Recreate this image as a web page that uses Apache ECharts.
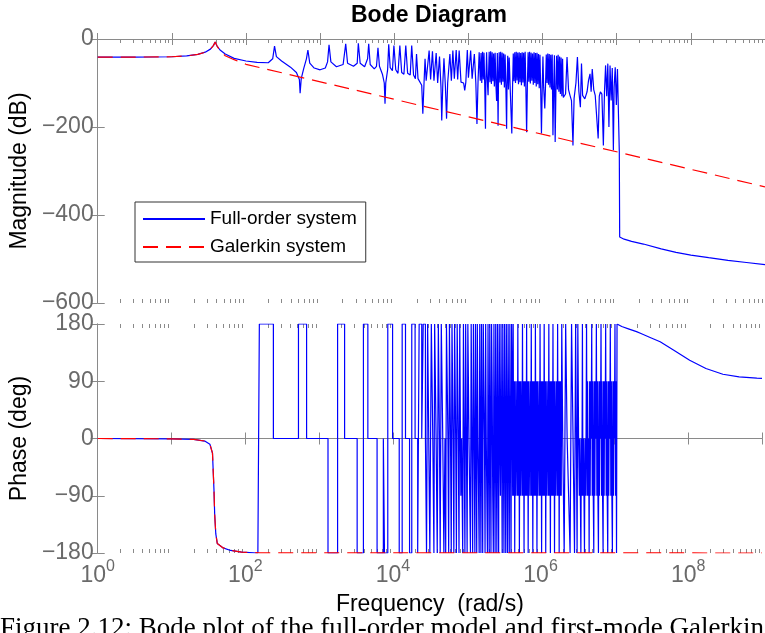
<!DOCTYPE html>
<html>
<head>
<meta charset="utf-8">
<script src="https://cdn.jsdelivr.net/npm/echarts@6/dist/echarts.min.js"></script>
<style>html,body{margin:0;padding:0;background:#fff;}#c{width:765px;height:633px;}</style>
</head>
<body>
<div id="c"></div>
<script>
// x values are log10(frequency in rad/s)
const xTickExponents = [0,1,2,3,4,5,6,7,8,9];
const magTicks = [0,-200,-400,-600];
const phaseTicks = [180,90,0,-90,-180];

// Full-order system magnitude (dB)
const fullMag = [
[0,-41.3],[0.5,-41.1],[1,-40.3],[1.2,-38.5],[1.35,-35],[1.45,-30],[1.52,-23],[1.56,-15],[1.585,-7],[1.61,-16],[1.65,-25],[1.72,-34],[1.84,-44],[2.0,-50],[2.15,-53],[2.3,-54],[2.36,-45],[2.385,-16],[2.41,-40],[2.48,-50],[2.6,-64],[2.68,-76],[2.72,-92],[2.73,-123],[2.745,-90],[2.78,-66],[2.815,-45],[2.835,-25],[2.86,-55],[2.92,-66],[3.0,-70],[3.07,-66],[3.1,-52],[3.12,-13],[3.145,-52],[3.22,-63],[3.31,-58],[3.345,-11],[3.37,-55],[3.45,-62],[3.5,-55],[3.515,-10],[3.54,-55],[3.6,-63],[3.64,-45],[3.655,-11],[3.675,-58],[3.73,-68],[3.76,-62],[3.78,-20],[3.80,-62],[3.84,-80],[3.865,-100],[3.875,-147],[3.885,-100],[3.91,-70],[3.925,-12],[3.945,-65],[3.975,-72],[3.995,-15],[4.02,-70],[4.05,-78],[4.075,-15],[4.1,-76],[4.13,-80],[4.155,-15],[4.18,-78],[4.215,-82],[4.235,-15],[4.26,-82],[4.285,-90],[4.3,-34],[4.32,-90],[4.37,-105],[4.385,-170],[4.40,-105],[4.415,-45],[4.43,-95],[4.47,-26],[4.49,-92],[4.515,-28],[4.535,-95],[4.565,-32],[4.585,-100],[4.61,-40],[4.63,-110],[4.64,-185],[4.655,-100],[4.67,-44],[4.69,-110],[4.705,-181],[4.72,-100],[4.75,-34],[4.77,-95],[4.79,-26],[4.81,-90],[4.835,-25],[4.855,-92],[4.875,-26],[4.9,-98],[4.935,-100],[4.95,-117],[4.965,-98],[4.985,-25],[5.0,-88],[5.03,-26],[5.05,-90],[5.08,-34],[5.1,-100],[5.115,-193],[5.13,-95],[5.145,-30],
[5.16,-95],[5.17,-32],[5.18,-100],[5.19,-29],[5.2,-92],[5.21,-31],[5.22,-105],[5.23,-204],[5.235,-100],[5.245,-30],[5.255,-95],[5.265,-128],[5.27,-90],[5.28,-29],[5.29,-98],[5.3,-28],[5.31,-102],[5.32,-30],[5.33,-96],[5.34,-33],[5.35,-108],[5.36,-31],[5.37,-100],[5.38,-141],[5.385,-95],[5.39,-32],[5.4,-197],[5.405,-105],[5.415,-30],[5.425,-99],[5.435,-29],[5.445,-104],[5.455,-31],[5.465,-97],[5.475,-33],[5.485,-110],[5.495,-35],[5.505,-108],[5.515,-204],[5.52,-112],[5.53,-38],[5.54,-115],[5.55,-42],[5.565,-120],[5.585,-215],[5.595,-110],[5.605,-33],[5.615,-96],[5.625,-30],[5.635,-100],[5.645,-29],[5.655,-94],[5.665,-31],[5.675,-103],[5.685,-30],[5.695,-98],[5.705,-32],[5.715,-105],[5.725,-30],[5.735,-99],[5.745,-31],[5.755,-108],[5.765,-29],[5.775,-112],[5.785,-212],[5.795,-105],[5.805,-30],[5.815,-97],[5.825,-29],[5.835,-101],[5.845,-31],[5.855,-95],[5.865,-33],[5.875,-104],[5.885,-30],[5.895,-100],[5.905,-32],[5.915,-108],[5.925,-31],[5.935,-103],[5.945,-34],[5.955,-112],[5.965,-36],[5.975,-118],[5.985,-215],[5.995,-115],[6.005,-40],[6.015,-110],[6.03,-158],[6.04,-105],[6.05,-35],[6.06,-100],[6.07,-33],[6.08,-104],[6.09,-34],[6.1,-110],[6.11,-36],[6.12,-115],[6.13,-35],[6.14,-219],[6.15,-112],[6.16,-37],[6.17,-234],[6.18,-118],[6.19,-38],[6.2,-115],[6.21,-36],[6.22,-120],[6.23,-40],[6.24,-125],[6.25,-42],[6.26,-130],[6.27,-45],[6.28,-133],[6.29,-130],
[6.31,-125],[6.33,-41],[6.35,-115],[6.37,-128],[6.39,-140],[6.41,-242],[6.425,-135],[6.45,-100],[6.47,-41],[6.49,-120],[6.51,-155],[6.525,-56],[6.54,-128],[6.57,-136],[6.6,-120],[6.62,-94],[6.64,-79],[6.655,-120],[6.67,-68],[6.69,-115],[6.71,-128],[6.73,-132],[6.75,-226],[6.765,-130],[6.78,-120],[6.8,-125],[6.82,-242],[6.835,-120],[6.85,-60],[6.865,-130],[6.88,-56],[6.895,-200],[6.91,-60],[6.925,-140],[6.94,-66],[6.955,-253],[6.965,-110],[6.98,-64],[6.995,-150],[7.01,-68],[7.02,-70],[7.035,-257],[7.04,-450],[7.1,-455],[7.2,-460],[7.36,-466],[7.6,-477],[7.8,-485],[8.0,-491],[8.24,-497],[8.5,-503],[8.75,-508],[9.0,-513]
];

// Galerkin system magnitude (dB)
const galMag = [
[0,-41.3],[0.5,-41.1],[1,-40.3],[1.2,-38.5],[1.35,-35],[1.45,-30],[1.52,-23],[1.56,-15],[1.585,-7],[1.61,-16],[1.65,-27],[1.72,-38],[1.84,-47],[2.0,-57.5],[9,-336]
];

// Full-order system phase (deg): smooth low-frequency part
const fullPhaseLow = [
[0,0],[1,-0.5],[1.3,-1.5],[1.45,-4],[1.52,-9],[1.555,-23],[1.575,-80],[1.585,-120],[1.6,-150],[1.62,-165],[1.7,-172],[1.8,-176],[1.95,-178.5],[2.17,-180]
];

// Full-order system phase (deg): wrapped plateaus (value holds until next frequency)
const fullPhaseSteps = [
[2.17,-180],[2.19,180],[2.38,0],[2.72,180],[2.83,0],[3.12,-180],[3.25,180],[3.345,0],[3.515,-180],[3.6,180],[3.66,0],[3.785,-180],[3.87,0],[3.885,-180],[3.93,180],[3.995,0],[4.085,-180],[4.125,180],[4.17,0],[4.225,-180],[4.255,180],
[4.3,0],[4.335,-180],[4.355,180],[4.39,0],[4.41,180],[4.44,0],[4.455,-180],[4.47,180],[4.485,0],[4.5,-180],[4.52,180],[4.54,0],[4.555,-180],[4.565,180],[4.585,0],[4.6,-180],[4.615,180],[4.63,0],[4.64,-180],[4.655,180],[4.675,0],[4.69,-180],[4.705,0],[4.715,-180],[4.725,180],[4.745,0],[4.755,-180],[4.765,180],[4.78,0],[4.79,-180],[4.8,180],[4.815,0],[4.825,-180],[4.835,180],[4.85,0],[4.86,-180],[4.87,180],[4.885,0],[4.895,-180],[4.905,180],[4.92,-90],[4.93,0],[4.945,-180],[4.955,180],[4.965,0],[4.975,-180],[4.985,180],[4.995,0],[5.005,-180],[5.015,180],[5.03,0],[5.04,-90],[5.05,-180],[5.06,180],[5.07,0],[5.08,-180],[5.09,180],[5.1,0],[5.11,-180],[5.118,180],[5.126,0],[5.135,-180],[5.143,180],[5.152,0],[5.16,-90],[5.168,-180],[5.176,180],[5.184,0],[5.192,-180],[5.2,180],[5.208,0],[5.216,-180],[5.224,180],[5.232,90],[5.24,0],[5.248,-180],[5.256,180],[5.264,0],[5.272,-90],[5.28,-180],[5.288,180],[5.296,0],[5.304,-180],[5.312,180],[5.32,0],[5.328,-180],[5.336,180],[5.344,90],[5.352,-90],[5.36,-180],[5.368,180],[5.376,0],[5.384,-180],[5.392,180],[5.4,0],[5.408,-180],[5.416,180],[5.424,0],[5.432,-180],[5.44,180],[5.448,0],[5.456,-90],[5.464,180],[5.472,0],[5.48,-180],[5.488,180],[5.496,0],[5.504,-180],[5.512,180],[5.52,0],[5.528,-180],[5.536,180],[5.544,0],[5.552,-180],[5.56,180],[5.568,0],[5.576,-180],[5.584,180],[5.592,0],[5.6,-180],[5.608,180],
[5.615,90],[5.622,-90],[5.629,180],[5.636,-90],[5.643,90],[5.65,-180],[5.657,90],[5.664,-90],[5.671,0],[5.678,90],[5.685,-90],[5.692,180],[5.699,-90],[5.706,90],[5.713,-180],[5.72,90],[5.727,-90],[5.734,90],[5.741,0],[5.748,-90],[5.755,180],[5.762,-90],[5.769,90],[5.776,-180],[5.783,90],[5.79,-90],[5.797,90],[5.804,-90],[5.811,180],[5.818,-90],[5.825,90],[5.832,-180],[5.839,90],[5.846,-90],[5.853,0],[5.86,90],[5.867,-90],[5.874,180],[5.881,-90],[5.888,90],[5.895,-180],[5.902,90],[5.909,-90],[5.916,90],[5.923,-90],[5.93,180],[5.937,-90],[5.944,90],[5.951,-180],[5.958,90],[5.965,-90],[5.972,0],[5.979,90],[5.986,-90],[5.993,180],[6.0,-90],[6.007,90],[6.014,-180],[6.021,90],[6.028,-90],[6.035,90],[6.042,-90],[6.049,180],[6.056,-90],[6.063,90],[6.07,-180],[6.077,90],[6.084,-90],[6.091,0],[6.098,90],[6.105,-90],[6.112,180],[6.119,-90],[6.126,90],[6.133,-180],[6.14,90],[6.147,-90],[6.154,90],[6.161,-90],[6.168,180],[6.175,-90],[6.182,90],[6.189,-180],[6.196,90],[6.203,-90],[6.21,0],[6.217,90],[6.224,-90],[6.231,180],[6.238,-90],[6.245,90],[6.252,-180],[6.259,90],[6.266,-90],[6.273,90],[6.28,-90],[6.287,180],
[6.3,0],[6.32,-180],[6.34,180],[6.36,0],[6.38,-90],[6.4,-180],[6.42,180],[6.44,0],[6.46,-180],[6.475,180],
[6.485,0],[6.495,-180],[6.505,180],[6.515,0],[6.525,-90],[6.532,0],[6.539,-90],[6.546,-180],[6.553,0],[6.56,-90],[6.567,180],[6.574,-90],[6.581,0],[6.588,-90],[6.595,-180],[6.602,0],[6.609,-90],[6.616,0],[6.623,180],[6.63,-90],[6.637,90],[6.644,-90],[6.651,0],[6.658,-180],[6.665,90],[6.672,-90],[6.679,90],[6.686,0],[6.693,180],[6.7,-90],[6.707,90],[6.714,-90],[6.721,-180],[6.728,90],[6.735,-90],[6.742,90],[6.749,0],[6.756,180],[6.763,-90],[6.77,90],[6.777,-90],[6.784,-180],[6.791,90],[6.798,-90],[6.805,90],[6.812,0],[6.819,180],[6.826,-90],[6.833,90],[6.84,-90],[6.847,-180],[6.854,90],[6.861,-90],[6.868,90],[6.875,0],[6.882,180],[6.889,-90],[6.896,90],[6.903,-90],[6.91,-180],[6.917,90],[6.924,-90],[6.931,90],[6.938,0],[6.945,180],[6.952,-90],[6.959,90],[6.966,-90],[6.973,-180],[6.98,90],[6.987,-90],[6.994,90],[7.001,0],[7.008,180],[7.015,-90],[7.022,90],[7.029,-180],[7.036,180]
];

// Full-order system phase (deg): high-frequency tail
const fullPhaseTail = [
[7.036,180],[7.04,178],[7.1,176],[7.2,172],[7.3,168],[7.36,165],[7.5,158],[7.62,152],[7.8,139],[8.02,123],[8.24,110],[8.47,101],[8.69,97],[8.93,95],[9.0,94.5]
];

// Galerkin system phase (deg)
const galPhase = [
[0,0],[1,-0.5],[1.3,-1.5],[1.45,-4],[1.52,-9],[1.555,-23],[1.575,-80],[1.585,-120],[1.6,-150],[1.62,-165],[1.7,-172],[1.8,-176],[1.95,-178.5],[2.2,-179.7],[9,-180]
];

// minor tick positions on the log frequency axis (2..9 x 10^n)
const minorTicks = [];
for (let n = 0; n < 9; n++) for (let k = 2; k <= 9; k++) minorTicks.push([n + Math.log10(k)]);

const FONT = 'Liberation Sans, Arial, Helvetica, sans-serif';
const AXC = '#8a8a8a';
const LBC = '#6a6a6a';
const FS = 23;

const chart = echarts.init(document.getElementById('c'), null, {renderer: 'canvas'});

function minusFmt(v) { return String(v).replace('-', '\u2212'); }

function xAx(grid, pos, showLabel, extra) {
  return Object.assign({
    type: 'value', gridIndex: grid, position: pos, min: 0, max: 9, interval: 1,
    axisLine: {show: true, lineStyle: {color: AXC, width: 1}},
    axisTick: {show: true, inside: true, length: 6, lineStyle: {color: AXC}},
    splitLine: {show: false},
    axisLabel: {show: showLabel}
  }, extra || {});
}
function yAx(grid, pos, min, max, interval, showLabel, extra) {
  return Object.assign({
    type: 'value', gridIndex: grid, position: pos, min: min, max: max, interval: interval,
    axisLine: {show: true, lineStyle: {color: AXC, width: 1}},
    axisTick: {show: true, inside: true, length: 7, lineStyle: {color: AXC}},
    splitLine: {show: false},
    axisLabel: {show: showLabel, color: LBC, fontSize: FS, fontFamily: FONT, margin: 4, formatter: minusFmt}
  }, extra || {});
}

function minorRender(ymin, ymax) {
  return function (params, api) {
    const x = api.value(0);
    const b = api.coord([x, ymin]);
    const t = api.coord([x, ymax]);
    const px = Math.round(b[0]) + 0.5;
    const st = {stroke: AXC, lineWidth: 1};
    return {type: 'group', children: [
      {type: 'line', shape: {x1: px, y1: b[1], x2: px, y2: b[1] - 4}, style: st},
      {type: 'line', shape: {x1: px, y1: t[1], x2: px, y2: t[1] + 4}, style: st}
    ]};
  };
}

const blue = {color: '#0000ff', width: 1.2};
const red = {color: '#ff0000', width: 1.2, type: [15, 8]};

chart.setOption({
  animation: false,
  backgroundColor: '#fff',
  title: [
    {text: 'Bode Diagram', left: 351, top: 4, padding: 0,
     textStyle: {fontFamily: FONT, fontSize: FS, fontWeight: 'bold', color: '#000'}},
    {text: 'Figure 2.12: Bode plot of the full-order model and first-mode Galerkin', left: 0, top: 615, padding: 0,
     textStyle: {fontFamily: 'Liberation Serif, Times New Roman, serif', fontSize: 27, fontWeight: 'normal', color: '#000'}}
  ],
  legend: {
    data: ['Full-order system', 'Galerkin system'],
    orient: 'vertical', left: 135, top: 202,
    padding: [6, 9, 4, 7], itemGap: 6, itemWidth: 62, itemHeight: 14,
    backgroundColor: '#fff', borderColor: '#333', borderWidth: 1, borderRadius: 0,
    itemStyle: {opacity: 0},
    textStyle: {fontFamily: FONT, fontSize: 19, color: '#000', lineHeight: 22}
  },
  grid: [
    {left: 95, right: -5, top: 39, height: 264},
    {left: 95, right: -5, top: 324, height: 229}
  ],
  xAxis: [
    xAx(0, 'bottom', false),
    xAx(0, 'top', false),
    xAx(1, 'bottom', true, {
      name: 'Frequency  (rad/s)', nameLocation: 'middle', nameGap: 40,
      nameTextStyle: {fontFamily: FONT, fontSize: FS, color: '#000'},
      axisLabel: {show: true, margin: 6, formatter: function (v) {
        return (v % 2 === 0) ? '{b|10}{s|' + v + '}' : '';
      }, rich: {
        b: {fontFamily: FONT, fontSize: FS, color: LBC, lineHeight: 28, verticalAlign: 'bottom'},
        s: {fontFamily: FONT, fontSize: 16, color: LBC, lineHeight: 16, verticalAlign: 'top'}
      }}
    }),
    xAx(1, 'top', false)
  ],
  yAxis: [
    yAx(0, 'left', -600, 0, 200, true, {
      name: 'Magnitude (dB)', nameLocation: 'middle', nameGap: 59, nameRotate: 90,
      nameTextStyle: {fontFamily: FONT, fontSize: FS, color: '#000'}
    }),
    yAx(0, 'right', -600, 0, 200, false),
    yAx(1, 'left', -180, 180, 90, true, {
      name: 'Phase (deg)', nameLocation: 'middle', nameGap: 59, nameRotate: 90,
      nameTextStyle: {fontFamily: FONT, fontSize: FS, color: '#000'}
    }),
    yAx(1, 'right', -180, 180, 90, false)
  ],
  series: [
    {name: 'Full-order system', type: 'line', xAxisIndex: 0, yAxisIndex: 0, data: fullMag,
     symbol: 'none', lineStyle: blue, itemStyle: {color: '#0000ff'}},
    {name: 'Full-order system', type: 'line', xAxisIndex: 2, yAxisIndex: 2, data: fullPhaseLow,
     symbol: 'none', lineStyle: blue, itemStyle: {color: '#0000ff'}},
    {name: 'Full-order system', type: 'line', xAxisIndex: 2, yAxisIndex: 2, data: fullPhaseSteps, step: 'end',
     symbol: 'none', lineStyle: blue, itemStyle: {color: '#0000ff'}},
    {name: 'Full-order system', type: 'line', xAxisIndex: 2, yAxisIndex: 2, data: fullPhaseTail,
     symbol: 'none', lineStyle: blue, itemStyle: {color: '#0000ff'}},
    {name: 'Galerkin system', type: 'line', xAxisIndex: 0, yAxisIndex: 0, data: galMag,
     symbol: 'none', lineStyle: red, itemStyle: {color: '#ff0000'}},
    {name: 'Galerkin system', type: 'line', xAxisIndex: 2, yAxisIndex: 2, data: galPhase,
     symbol: 'none', lineStyle: red, itemStyle: {color: '#ff0000'}},
    {type: 'custom', xAxisIndex: 0, yAxisIndex: 0, data: minorTicks, renderItem: minorRender(-600, 0), silent: true},
    {type: 'custom', xAxisIndex: 2, yAxisIndex: 2, data: minorTicks, renderItem: minorRender(-180, 180), silent: true}
  ]
});
</script>
</body>
</html>
